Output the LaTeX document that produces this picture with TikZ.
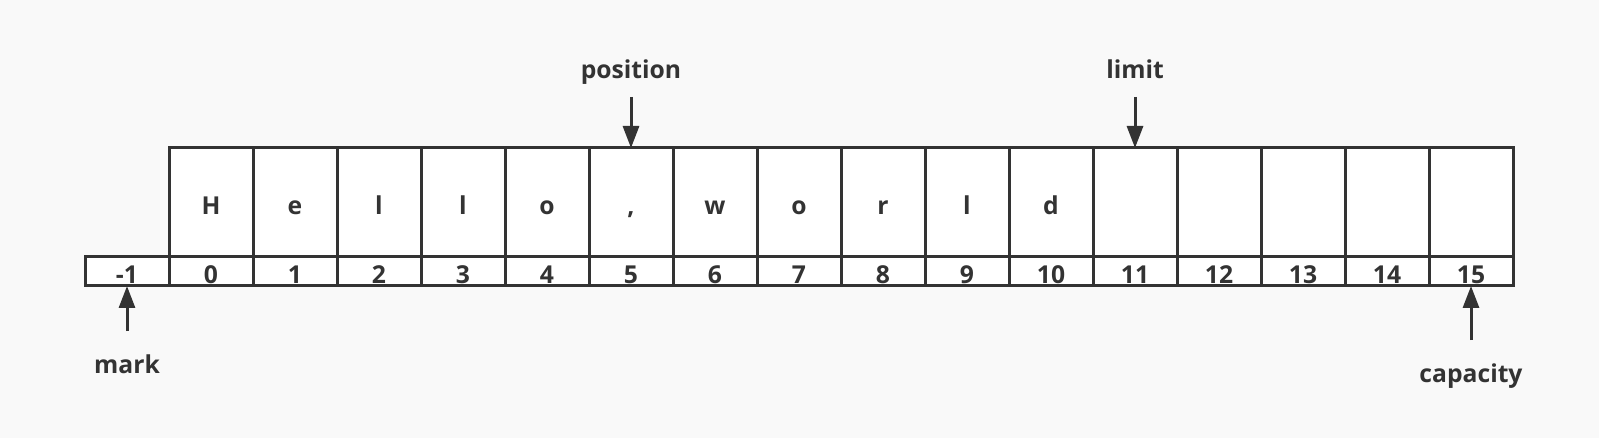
\documentclass[tikz,border=0pt]{standalone}
\usepackage{fontspec}
\setmainfont{Open Sans}
\usetikzlibrary{arrows.meta}
\definecolor{ink}{HTML}{333333}
\definecolor{bg}{HTML}{F9F9F9}
\tikzset{
  cellbox/.style={draw=ink, line width=2.25pt, fill=white, minimum width=63pt, inner sep=0pt, outer sep=0pt},
  topcell/.style={cellbox, minimum height=81.75pt},
  idxcell/.style={cellbox, minimum height=21.75pt},
  txt/.style={text=ink, font=\fontsize{18.5}{20}\selectfont\bfseries, inner sep=0pt, anchor=base},
  arr/.style={draw=ink, line width=2.25pt, -{Triangle[width=12pt,length=16.5pt]}}
}
\begin{document}
\begin{tikzpicture}[x=0.75pt,y=-0.75pt]
\fill[bg] (0,0) rectangle (1599,438);
\useasboundingbox (0,0) rectangle (1599,438);
% cells
\node[idxcell] (im) at (127,271.5) {};
\foreach \i in {0,...,15} {
  \node[topcell] (c\i) at ({211+84*\i},202.5) {};
  \node[idxcell] (i\i) at ({211+84*\i},271.5) {};
}
% index numbers
\node[txt] (tm) at (127,283.5) {-1};
\foreach \i in {0,...,15} {
  \node[txt] (n\i) at ({211+84*\i},283.5) {\i};
}
% contents
\foreach \ch [count=\k from 0] in {H,e,l,l,o,{,},w,o,r,l,d} {
  \node[txt] (l\k) at ({211+84*\k},215) {\ch};
}
% labels
\node[txt] (pos) at (631,79) {position};
\node[txt] (lim) at (1135,79) {limit};
\node[txt] (mk) at (127,373) {mark};
\node[txt] (cap) at (1471,382) {capacity};
\coordinate (posT) at (631,97);
\coordinate (limT) at (1135,97);
\coordinate (mkT) at (127,331);
\coordinate (capT) at (1471,340);
\draw[arr] (posT) -- (c5.north);
\draw[arr] (limT) -- (c11.north);
\draw[arr] (mkT) -- (im.south);
\draw[arr] (capT) -- (i15.south);
\end{tikzpicture}
\end{document}
